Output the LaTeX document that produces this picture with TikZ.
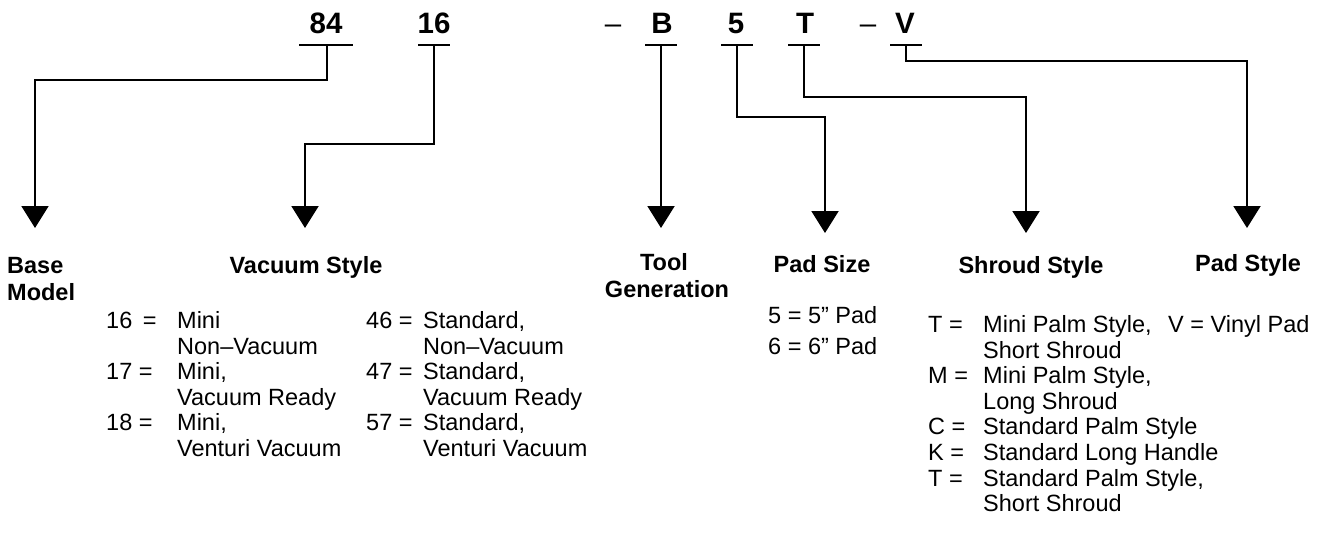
\documentclass[tikz,border=0pt]{standalone}
\usepackage{fontspec}
\setmainfont{Liberation Sans}
\usetikzlibrary{arrows.meta}
\definecolor{inkBlack}{RGB}{0,0,0}

\begin{document}
\begin{tikzpicture}[x=1pt,y=-1pt,line join=miter,
  code/.style={font=\fontsize{29.5}{32}\selectfont\bfseries,inner sep=0pt,anchor=base},
  sepmark/.style={font=\fontsize{29.5}{32}\selectfont,inner sep=0pt,anchor=base},
  head/.style={font=\fontsize{23.5}{26}\selectfont\bfseries,inner sep=0pt,anchor=base},
  entry/.style={font=\fontsize{23.5}{26}\selectfont,inner sep=0pt,anchor=base west},
  rule/.style={inkBlack,line width=2pt},
  link/.style={inkBlack,line width=2pt,-{Triangle[width=27pt,length=22pt]}}]

% fixed canvas, 1335 x 533
\path[use as bounding box] (0,0) rectangle (1335,533);

% model number, one part per position
\node[code] (c84) at (326,33) {84};
\node[code] (c16) at (434,33) {16};
\node[sepmark] (dashA) at (613,33) {–};
\node[code] (cB) at (662,33) {B};
\node[code] (c5) at (736,33) {5};
\node[code] (cT) at (805,33) {T};
\node[sepmark] (dashB) at (868,33) {–};
\node[code] (cV) at (905,33) {V};

% underline anchors below each part
\coordinate (u84) at (327,45);
\coordinate (u16) at (434,45);
\coordinate (uB) at (661,45);
\coordinate (u5) at (737,45);
\coordinate (uT) at (804,45);
\coordinate (uV) at (906,45);

\draw[rule] ([xshift=-28pt]u84) -- ([xshift=26pt]u84);
\draw[rule] ([xshift=-16pt]u16) -- ([xshift=16pt]u16);
\draw[rule] ([xshift=-16pt]uB) -- ([xshift=16pt]uB);
\draw[rule] ([xshift=-16pt]u5) -- ([xshift=16pt]u5);
\draw[rule] ([xshift=-16pt]uT) -- ([xshift=16pt]uT);
\draw[rule] ([xshift=-16pt]uV) -- ([xshift=16pt]uV);

% arrow tips above each heading
\coordinate (tBase) at (35,228);
\coordinate (tVac) at (305,228);
\coordinate (tTool) at (659,228);
\coordinate (tSize) at (825,233);
\coordinate (tShroud) at (1026,233);
\coordinate (tPad) at (1247,228);

% connectors
\draw[link] (u84) -- ++(0,35) -| (tBase);
\draw[link] (u16) -- ++(0,99) -| (tVac);
\draw[link] (uB) -- (uB |- tTool);
\draw[link] (u5) -- ++(0,72) -| (tSize);
\draw[link] (uT) -- ++(0,52) -| (tShroud);
\draw[link] (uV) -- ++(0,16) -| (tPad);

% headings
\node[head,anchor=base west] (hBase) at (7,273) {Base};
\node[head,anchor=base west] (hModel) at (7,300) {Model};
\node[head] (hVac) at (306,273) {Vacuum Style};
\node[head] (hTool) at (664,270) {Tool};
\node[head] (hGen) at (667,297) {Generation};
\node[head] (hSize) at (822,272) {Pad Size};
\node[head] (hShroud) at (1031,273) {Shroud Style};
\node[head] (hPad) at (1248,271) {Pad Style};

% vacuum style, mini column
\node[entry] (k16) at (106,328.4) {16 \,=};
\node[entry] (v16a) at (177,328.4) {Mini};
\node[entry] (v16b) at (177,354) {Non–Vacuum};
\node[entry] (k17) at (106,379.6) {17 =};
\node[entry] (v17a) at (177,379.6) {Mini,};
\node[entry] (v17b) at (177,405.2) {Vacuum Ready};
\node[entry] (k18) at (106,430.8) {18 =};
\node[entry] (v18a) at (177,430.8) {Mini,};
\node[entry] (v18b) at (177,456.4) {Venturi Vacuum};

% vacuum style, standard column
\node[entry] (k46) at (366,328.4) {46 =};
\node[entry] (v46a) at (423,328.4) {Standard,};
\node[entry] (v46b) at (423,354) {Non–Vacuum};
\node[entry] (k47) at (366,379.6) {47 =};
\node[entry] (v47a) at (423,379.6) {Standard,};
\node[entry] (v47b) at (423,405.2) {Vacuum Ready};
\node[entry] (k57) at (366,430.8) {57 =};
\node[entry] (v57a) at (423,430.8) {Standard,};
\node[entry] (v57b) at (423,456.4) {Venturi Vacuum};

% pad size
\node[entry] (s5) at (768,323.4) {5 = 5” Pad};
\node[entry] (s6) at (768,354.4) {6 = 6” Pad};

% shroud style
\node[entry] (kT1) at (928,332.4) {T =};
\node[entry] (vT1a) at (983,332.4) {Mini Palm Style,};
\node[entry] (vT1b) at (983,358) {Short Shroud};
\node[entry] (kM) at (928,383.6) {M =};
\node[entry] (vMa) at (983,383.6) {Mini Palm Style,};
\node[entry] (vMb) at (983,409.2) {Long Shroud};
\node[entry] (kC) at (928,434.8) {C =};
\node[entry] (vC) at (983,434.8) {Standard Palm Style};
\node[entry] (kK) at (928,460.4) {K =};
\node[entry] (vK) at (983,460.4) {Standard Long Handle};
\node[entry] (kT2) at (928,486) {T =};
\node[entry] (vT2a) at (983,486) {Standard Palm Style,};
\node[entry] (vT2b) at (983,511.6) {Short Shroud};

% pad style
\node[entry] (pV) at (1168,332.4) {V = Vinyl Pad};

\end{tikzpicture}
\end{document}
